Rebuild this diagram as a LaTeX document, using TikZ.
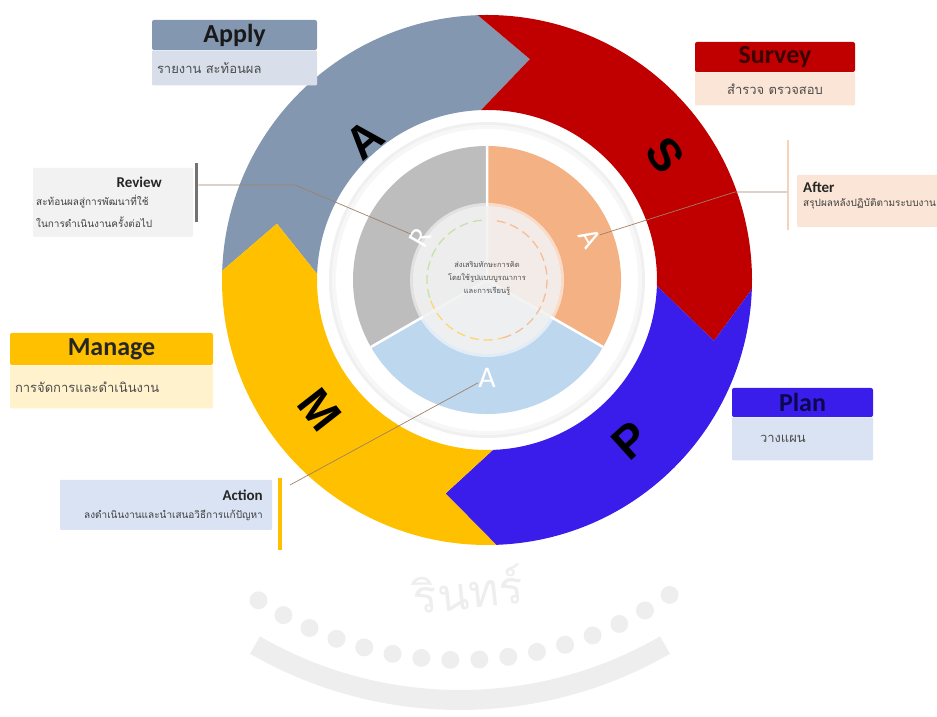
\documentclass[tikz,border=0pt]{standalone}
\usepackage{fontspec}
\setmainfont{Carlito}
\newfontfamily\thai[Script=Thai]{Loma}
\newfontfamily\lsans{Liberation Sans}
\usetikzlibrary{calc}
\definecolor{cgray}{HTML}{8497B0}
\definecolor{cred}{HTML}{C00000}
\definecolor{cblue}{HTML}{3A1DEB}
\definecolor{cyel}{HTML}{FFC000}
\definecolor{pgray}{HTML}{BDBDBD}
\definecolor{porange}{HTML}{F4B183}
\definecolor{pblue}{HTML}{BDD7EE}
\definecolor{lgblue}{HTML}{D9DFEA}
\definecolor{lpeach}{HTML}{FBE5D6}
\definecolor{lyel}{HTML}{FFF2CC}
\definecolor{lblue}{HTML}{DAE3F3}
\definecolor{lgray}{HTML}{F2F2F2}
\definecolor{wm}{HTML}{EEEEEE}
\definecolor{leadc}{HTML}{A08068}
\tikzset{
  titlebar/.style={rounded corners=2pt, inner sep=0pt, font=\fontsize{26}{26}\selectfont\bfseries},
  subbox/.style={inner sep=0pt, rounded corners=1pt},
  thtext/.style={font=\thai\fontsize{13}{15}\selectfont, text=black!70, inner sep=0pt},
  smallth/.style={font=\thai\fontsize{10}{12}\selectfont, text=black!75, inner sep=0pt},
  smalltitle/.style={font=\fontsize{15}{15}\selectfont\bfseries, text=black!85, inner sep=0pt},
  bigletter/.style={font=\lsans\fontsize{46}{46}\selectfont\bfseries, inner sep=0pt},
  pieletter/.style={font=\fontsize{30}{30}\selectfont, text=white, inner sep=0pt},
  leader/.style={draw=leadc, line width=0.7pt},
}
% #1 colour, #2 start angle, #3 end angle, #4 tip radius, #5 notch radius
\newcommand\ringseg[5]{%
  \fill[#1] (#2:265) arc[start angle=#2, end angle=#3, radius=265]
    -- ({#3-13}:#4) -- (#3:170) arc[start angle=#3, end angle=#2, radius=170]
    -- ({#2-13}:#5) -- cycle;}
\begin{document}
\begin{tikzpicture}[x=1pt,y=1pt]
\useasboundingbox (0,0) rectangle (937,717);
% watermark
\draw[wm, line width=20pt] (460,427) ++(240:410) arc[start angle=240, end angle=300, radius=410];
\foreach \a in {237,241.5,...,305} \fill[wm] ($(460,427)+(\a:370)$) circle (9);
\node[font=\thai\fontsize{46}{46}\selectfont, text=wm, rotate=6, inner sep=0pt] (wmtext) at (468,128) {รินทร์};
% ring and pie
\begin{scope}[shift={(487,437)}]
  \ringseg{cgray}{178}{92}{225}{217.5}
  \ringseg{cred}{92}{-2}{235}{225}
  \ringseg{cblue}{-2}{-88}{217.5}{235}
  \ringseg{cyel}{-88}{-182}{217.5}{217.5}
  \fill[black!6] (0,0) circle (158);
  \fill[black!3] (0,0) circle (155);
  \fill[white] (0,0) circle (151);
  \fill[pgray] (0,0) -- (90:134) arc[start angle=90, end angle=210, radius=134] -- cycle;
  \fill[porange] (0,0) -- (-30:134) arc[start angle=-30, end angle=90, radius=134] -- cycle;
  \fill[pblue] (0,0) -- (210:134) arc[start angle=210, end angle=330, radius=134] -- cycle;
  \draw[white, line width=2.5pt] (0,0) -- (90:134) (0,0) -- (210:134) (0,0) -- (330:134);
  \fill[white, opacity=0.55] (0,0) circle (77);
  \fill[black!6, opacity=0.8] (0,0) circle (74);
  \draw[line width=1.3pt, dash pattern=on 9pt off 5pt, draw={rgb,255:red,200;green,225;blue,170}]
     (95:60) arc[start angle=95, end angle=200, radius=60];
  \draw[line width=1.3pt, dash pattern=on 9pt off 5pt, draw={rgb,255:red,255;green,215;blue,110}]
     (200:60) arc[start angle=200, end angle=285, radius=60];
  \draw[line width=1.3pt, dash pattern=on 9pt off 5pt, draw={rgb,255:red,245;green,190;blue,150}]
     (285:60) arc[start angle=285, end angle=445, radius=60];
  \node[font=\thai\fontsize{7.5}{13}\selectfont, text=black!70, align=center] (ctext) at (0,2)
     {ส่งเสริมทักษะการคิด\\โดยใช้รูปแบบบูรณาการ\\และการเรียนรู้};
  \node[bigletter, rotate=41] (LA) at (-122,140) {A};
  \node[bigletter, rotate=-55] (LS) at (178,125) {S};
  \node[bigletter, rotate=42] (LP) at (143,-160) {P};
  \node[bigletter, rotate=-52] (LM) at (-167,-130) {M};
  \node[pieletter, rotate=60] (iR) at (-67,42) {R};
  \node[pieletter, rotate=-60] (iA1) at (103,42) {A};
  \node[pieletter] (iA2) at (0,-98) {A};
\end{scope}
% Apply
\node[titlebar, fill=cgray, text=black!90, minimum width=165pt, minimum height=30pt] (applyT) at (234.5,682) {Apply};
\node[subbox, fill=lgblue, minimum width=165pt, minimum height=35pt, anchor=north] (applyS) at (applyT.south) {};
\node[thtext, anchor=west] (applyX) at ([xshift=5pt]applyS.west) {รายงาน สะท้อนผล};
% Survey
\node[titlebar, fill=cred, text={rgb,255:red,60;green,0;blue,0}, minimum width=160pt, minimum height=30pt] (survT) at (775,660) {Survey};
\node[subbox, fill=lpeach, minimum width=160pt, minimum height=33pt, anchor=north] (survS) at (survT.south) {};
\node[thtext] (survX) at (survS.center) {สำรวจ ตรวจสอบ};
% Manage
\node[titlebar, fill=cyel, text=black!85, minimum width=203pt, minimum height=32pt] (manT) at (111.5,368) {Manage};
\node[subbox, fill=lyel, minimum width=203pt, minimum height=43pt, anchor=north] (manS) at (manT.south) {};
\node[thtext, anchor=west] (manX) at ([xshift=5pt]manS.west) {การจัดการและดำเนินงาน};
% Plan
\node[titlebar, fill=cblue, text={rgb,255:red,12;green,8;blue,80}, minimum width=141pt, minimum height=29pt] (planT) at (802.5,314.5) {Plan};
\node[subbox, fill=lblue, minimum width=141pt, minimum height=43pt, anchor=north] (planS) at (planT.south) {};
\node[thtext, anchor=west] (planX) at ([xshift=28pt]planS.west) {วางแผน};
% Review
\node[subbox, fill=lgray, minimum width=160pt, minimum height=69pt] (revB) at (113,514.5) {};
\node[smalltitle, anchor=east] (revT) at (162,535) {Review};
\node[smallth, anchor=west] (revX1) at (36,515) {สะท้อนผลสู่การพัฒนาที่ใช้};
\node[smallth, anchor=west] (revX2) at (36,495) {ในการดำเนินงานครั้งต่อไป};
\node[fill=black!55, minimum width=3.5pt, minimum height=59pt, inner sep=0pt] (revBar) at (196.5,524.5) {};
\coordinate (revK) at (295,532);
\draw[leader] (revBar.east |- revK) -- (revK) -- (iR);
% After
\node[subbox, fill=lpeach, minimum width=145pt, minimum height=52pt, anchor=west] (aftB) at (797,516) {};
\node[smalltitle, anchor=west] (aftT) at (803,530) {After};
\node[smallth, anchor=west] (aftX) at (803,513) {สรุปผลหลังปฏิบัติตามระบบงาน};
\node[fill={rgb,255:red,246;green,210;blue,185}, minimum width=1.2pt, minimum height=90pt, inner sep=0pt] (aftBar) at (788,532) {};
\coordinate (aftK) at (735,525);
\draw[leader] (aftBar.west |- aftK) -- (aftK) -- (iA1);
% Action
\node[subbox, fill=lblue, minimum width=212pt, minimum height=50pt] (actB) at (166,212) {};
\node[smalltitle, anchor=east] (actT) at (263,222) {Action};
\node[smallth, anchor=east] (actX) at (263,202) {ลงดำเนินงานและนำเสนอวิธีการแก้ปัญหา};
\node[fill=cyel, minimum width=4pt, minimum height=72pt, inner sep=0pt] (actBar) at (280,203) {};
\coordinate (actK) at (290,232);
\draw[leader] (actK) -- (iA2);
\end{tikzpicture}
\end{document}
